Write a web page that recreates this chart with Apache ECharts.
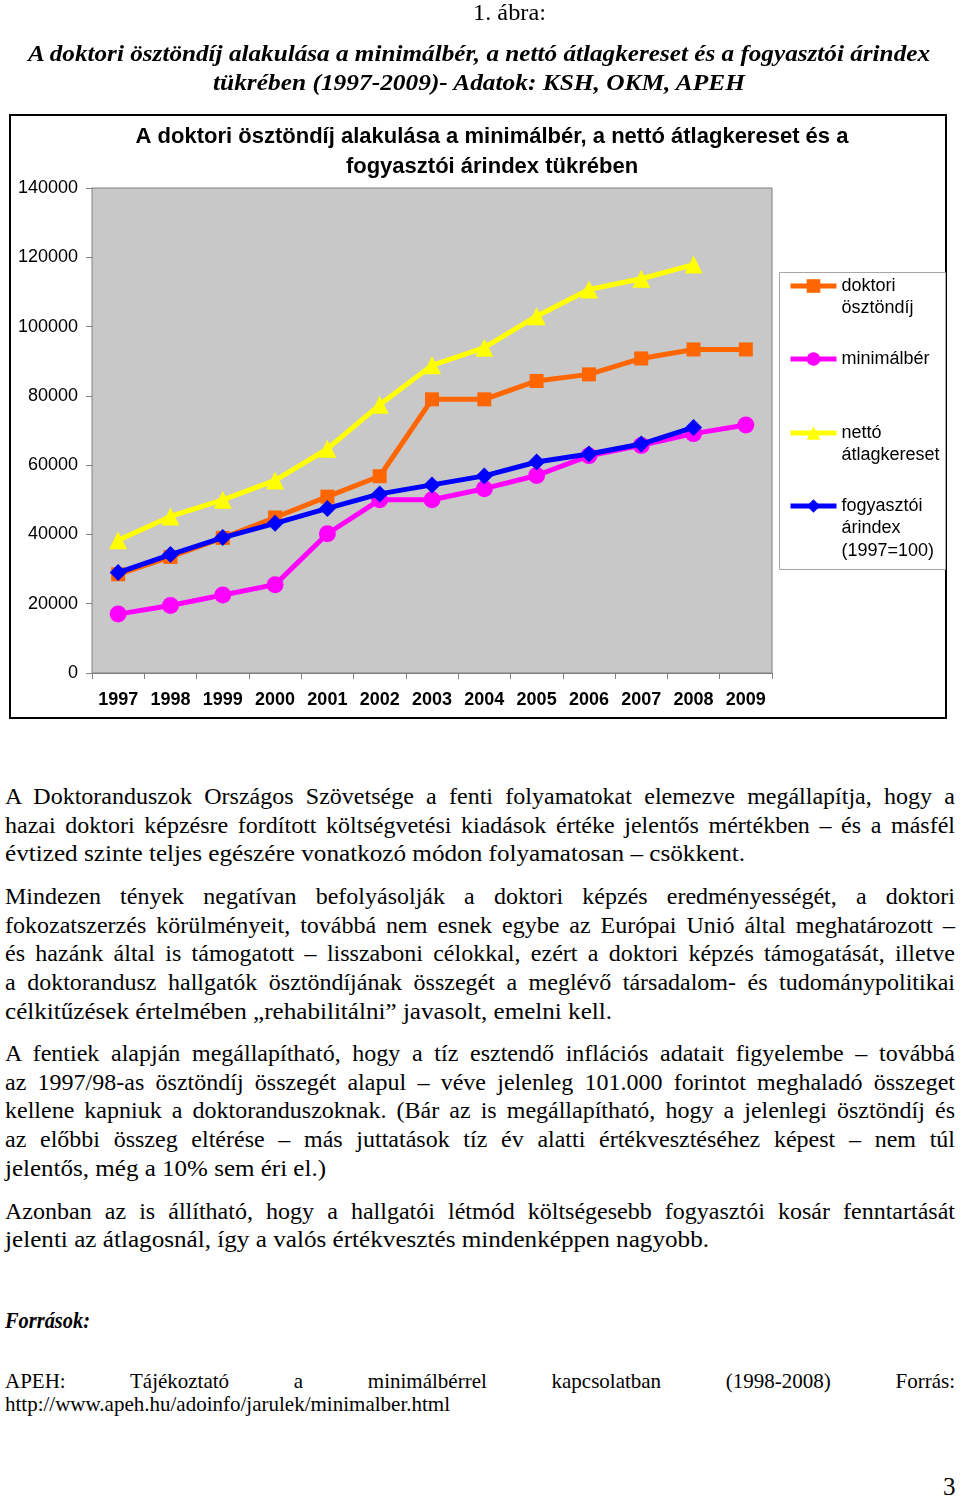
<!DOCTYPE html>
<html>
<head>
<meta charset="utf-8">
<script src="https://cdn.jsdelivr.net/npm/echarts/dist/echarts.min.js"></script>
<style>
html,body{margin:0;padding:0;background:#fff;}
body{width:960px;height:1496px;position:relative;overflow:hidden;}
#chart{position:absolute;left:0;top:0;width:960px;height:730px;}
.ln{position:absolute;left:0;top:0;white-space:nowrap;font-family:"Liberation Serif","Times New Roman",serif;font-size:24px;line-height:29px;color:#000;transform-origin:0 50%;}
.sm{font-size:21px;line-height:23px;}
.it{font-style:italic;}
.bi{font-style:italic;font-weight:bold;}
</style>
</head>
<body>
<div id="chart"></div>

<div class="ln" data-cx="509" data-y="12" data-w="73">1. ábra:</div>
<div class="ln bi" data-cx="479" data-y="53" data-w="902">A doktori ösztöndíj alakulása a minimálbér, a nettó átlagkereset és a fogyasztói árindex</div>
<div class="ln bi" data-cx="479" data-y="82" data-w="532">tükrében (1997-2009)- Adatok: KSH, OKM, APEH</div>

<div class="ln" data-x="5" data-y="796" data-w="950" data-j="1">A Doktoranduszok Országos Szövetsége a fenti folyamatokat elemezve megállapítja, hogy a</div>
<div class="ln" data-x="5" data-y="825" data-w="950" data-j="1">hazai doktori képzésre fordított költségvetési kiadások értéke jelentős mértékben – és a másfél</div>
<div class="ln" data-x="5" data-y="853" data-w="740">évtized szinte teljes egészére vonatkozó módon folyamatosan – csökkent.</div>

<div class="ln" data-x="5" data-y="896" data-w="950" data-j="1">Mindezen tények negatívan befolyásolják a doktori képzés eredményességét, a doktori</div>
<div class="ln" data-x="5" data-y="925" data-w="950" data-j="1">fokozatszerzés körülményeit, továbbá nem esnek egybe az Európai Unió által meghatározott –</div>
<div class="ln" data-x="5" data-y="953" data-w="950" data-j="1">és hazánk által is támogatott – lisszaboni célokkal, ezért a doktori képzés támogatását, illetve</div>
<div class="ln" data-x="5" data-y="982" data-w="950" data-j="1">a doktorandusz hallgatók ösztöndíjának összegét a meglévő társadalom- és tudománypolitikai</div>
<div class="ln" data-x="5" data-y="1011" data-w="607">célkitűzések értelmében „rehabilitálni” javasolt, emelni kell.</div>

<div class="ln" data-x="5" data-y="1053" data-w="950" data-j="1">A fentiek alapján megállapítható, hogy a tíz esztendő inflációs adatait figyelembe – továbbá</div>
<div class="ln" data-x="5" data-y="1082" data-w="950" data-j="1">az 1997/98-as ösztöndíj összegét alapul – véve jelenleg 101.000 forintot meghaladó összeget</div>
<div class="ln" data-x="5" data-y="1110" data-w="950" data-j="1">kellene kapniuk a doktoranduszoknak. (Bár az is megállapítható, hogy a jelenlegi ösztöndíj és</div>
<div class="ln" data-x="5" data-y="1139" data-w="950" data-j="1">az előbbi összeg eltérése – más juttatások tíz év alatti értékvesztéséhez képest – nem túl</div>
<div class="ln" data-x="5" data-y="1168" data-w="321">jelentős, még a 10% sem éri el.)</div>

<div class="ln" data-x="5" data-y="1211" data-w="950" data-j="1">Azonban az is állítható, hogy a hallgatói létmód költségesebb fogyasztói kosár fenntartását</div>
<div class="ln" data-x="5" data-y="1239" data-w="704">jelenti az átlagosnál, így a valós értékvesztés mindenképpen nagyobb.</div>

<div class="ln bi" data-x="5" data-y="1320" data-w="85">Források:</div>
<div class="ln sm" data-x="5" data-y="1381" data-w="950" data-j="1">APEH: Tájékoztató a minimálbérrel kapcsolatban (1998-2008) Forrás:</div>
<div class="ln sm" data-x="5" data-y="1404" data-w="445">http://www.apeh.hu/adoinfo/jarulek/minimalber.html</div>
<div class="ln" style="font-size:25px" data-x="943" data-y="1486">3</div>

<script>
// ---- data ----
const years = ['1997','1998','1999','2000','2001','2002','2003','2004','2005','2006','2007','2008','2009'];
const doktori = [28500, 33500, 39000, 44900, 50900, 56800, 79000, 79000, 84300, 86200, 90800, 93400, 93400];
const minimalber = [17000, 19500, 22500, 25500, 40200, 50000, 50000, 53200, 57000, 62700, 65700, 69100, 71600];
const netto = [38300, 45200, 50000, 55600, 64700, 77400, 88800, 93900, 103000, 110700, 113800, 117900, null];
const arindex = [29000, 34200, 39100, 43200, 47500, 51700, 54300, 56900, 60900, 63200, 66100, 70900, null];
const seriesNames = ['doktori ösztöndíj', 'minimálbér', 'nettó átlagkereset', 'fogyasztói árindex (1997=100)'];
const legendLabels = ['doktori\nösztöndíj', 'minimálbér', 'nettó\nátlagkereset', 'fogyasztói\nárindex\n(1997=100)'];
const chartTitle = 'A doktori ösztöndíj alakulása a minimálbér, a nettó átlagkereset és a\nfogyasztói árindex tükrében';
const yMin = 0, yMax = 140000, yStep = 20000;

const SANS = '"Liberation Sans", Arial, sans-serif';
const colors = ['#FF6600', '#FF00FF', '#FFFF00', '#0000FF'];
const symbols = ['rect', 'circle', 'triangle', 'diamond'];
const symbolSizes = [14, 17, 18, 17];
const dataSets = [doktori, minimalber, netto, arindex];
const legendIconY = [286, 359, 433, 506];
const LH = 22.5;

const chart = echarts.init(document.getElementById('chart'), null, {renderer: 'canvas'});
chart.setOption({
  animation: false,
  backgroundColor: 'transparent',
  graphic: [
    {type: 'rect', z: 0, shape: {x: 10, y: 115, width: 936, height: 603}, style: {fill: '#fff', stroke: '#000', lineWidth: 2}},
    {type: 'rect', z: 1, shape: {x: 779.5, y: 272.5, width: 166, height: 297}, style: {fill: '#fff', stroke: '#a6a6a6', lineWidth: 1}},
    {type: 'text', z: 5, x: 492, y: 152, style: {text: chartTitle, textAlign: 'center', textVerticalAlign: 'middle',
      font: 'bold 22px ' + SANS, lineHeight: 30, fill: '#000'}}
  ],
  grid: {left: 92, top: 188, width: 680, height: 485, show: true, backgroundColor: '#c8c8c8', borderColor: '#808080', borderWidth: 1, z: 2},
  xAxis: {
    type: 'category', data: years, boundaryGap: true,
    axisLine: {lineStyle: {color: '#808080', width: 1}},
    axisTick: {show: true, length: 6, lineStyle: {color: '#808080'}},
    axisLabel: {fontFamily: SANS, fontSize: 18, fontWeight: 'bold', color: '#000', margin: 18},
    splitLine: {show: false}
  },
  yAxis: {
    type: 'value', min: yMin, max: yMax, interval: yStep,
    axisLine: {show: true, lineStyle: {color: '#808080', width: 1}},
    axisTick: {show: true, length: 6, lineStyle: {color: '#808080'}},
    axisLabel: {fontFamily: SANS, fontSize: 18, color: '#000', margin: 14, formatter: v => String(v)},
    splitLine: {show: true, lineStyle: {color: '#808080', width: 1}}
  },
  legend: seriesNames.map((n, i) => {
    const N = legendLabels[i].split('\n').length;
    return {
      data: [n], orient: 'vertical', left: 788, top: legendIconY[i] - (2 * N - 1) * LH / 2,
      padding: 0, itemWidth: 46, itemHeight: 17, itemGap: 0, z: 6,
      lineStyle: {width: 5, color: colors[i]},
      itemStyle: {color: colors[i]},
      formatter: () => ' \n'.repeat(N - 1) + legendLabels[i],
      textStyle: {fontFamily: SANS, fontSize: 18, lineHeight: LH, color: '#000'}
    };
  }),
  series: seriesNames.map((n, i) => ({
    name: n, type: 'line', data: dataSets[i],
    symbol: symbols[i], symbolSize: symbolSizes[i], showAllSymbol: true,
    lineStyle: {color: colors[i], width: 5},
    itemStyle: {color: colors[i], borderWidth: 0},
    z: 3 + i
  }))
});

// ---- text layout fitting ----
document.querySelectorAll('.ln').forEach(el => {
  const y = +el.dataset.y;
  const tw = el.dataset.w ? +el.dataset.w : 0;
  el.style.top = (y - el.offsetHeight / 2) + 'px';
  const w = el.getBoundingClientRect().width;
  let s = 1;
  if (el.dataset.j) {
    const n = (el.textContent.match(/ /g) || []).length;
    const ws = (tw - w) / n;
    if (ws >= 0) el.style.wordSpacing = ws + 'px'; else s = tw / w;
  } else if (tw) {
    s = tw / w;
  }
  el.style.transform = 'scaleX(' + s + ')';
  if (el.dataset.cx !== undefined) el.style.left = (+el.dataset.cx - (tw || w) / 2) + 'px';
  else el.style.left = (+el.dataset.x) + 'px';
});
</script>
</body>
</html>
